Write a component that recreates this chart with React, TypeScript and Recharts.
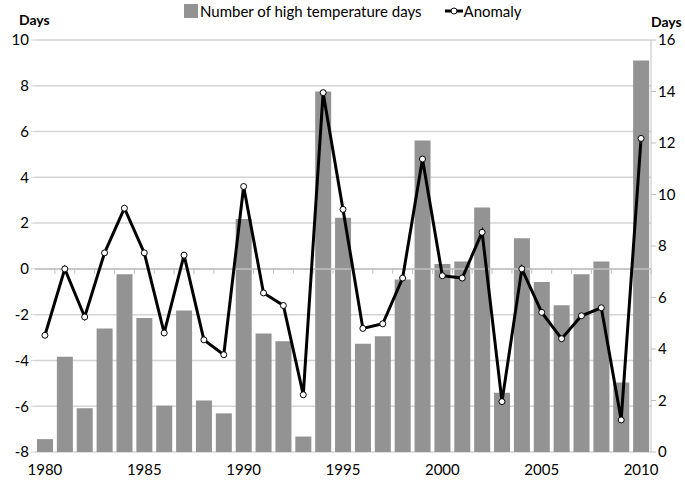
import {
  Bar,
  CartesianGrid,
  ComposedChart,
  Line,
  ReferenceLine,
  XAxis,
  YAxis
} from "recharts";

const YEARS = [
  1980, 1981, 1982, 1983, 1984, 1985, 1986, 1987, 1988, 1989,
  1990, 1991, 1992, 1993, 1994, 1995, 1996, 1997, 1998, 1999,
  2000, 2001, 2002, 2003, 2004, 2005, 2006, 2007, 2008, 2009, 2010
];

// number of high temperature days (right axis)
const HOT_DAYS = [
  0.5, 3.7, 1.7, 4.8, 6.9, 5.2, 1.8, 5.5, 2.0, 1.5,
  9.05, 4.6, 4.3, 0.6, 14.0, 9.1, 4.2, 4.5, 6.7, 12.1,
  7.3, 7.4, 9.5, 2.3, 8.3, 6.6, 5.7, 6.9, 7.4, 2.7, 15.2
];

// anomaly (left axis)
const ANOMALY = [
  -2.9, 0.0, -2.1, 0.7, 2.65, 0.7, -2.8, 0.6, -3.1, -3.75,
  3.6, -1.05, -1.6, -5.5, 7.7, 2.6, -2.6, -2.4, -0.4, 4.8,
  -0.3, -0.4, 1.6, -5.8, 0.0, -1.9, -3.05, -2.05, -1.7, -6.6, 5.7
];

const LEFT_TICKS = [-8, -6, -4, -2, 0, 2, 4, 6, 8, 10];
const RIGHT_TICKS = [0, 2, 4, 6, 8, 10, 12, 14, 16];

const FONT = "Lato, 'Open Sans', sans-serif";
const BAR_COLOR = "#939393";
const GRID = "#d4d4d4";

const data = YEARS.map((year, i) => ({
  year,
  days: HOT_DAYS[i],
  anomaly: ANOMALY[i]
}));

// zero line with small tick marks between categories, like the Excel category axis
function ZeroLine(props: any) {
  const { x1, x2, y1 } = props;
  if (x1 == null || x2 == null || y1 == null) return null;
  const left = Math.min(x1, x2);
  const step = Math.abs(x2 - x1) / YEARS.length;
  return (
    <g>
      <line x1={left} x2={left + Math.abs(x2 - x1)} y1={y1} y2={y1} stroke="#c0c0c0" strokeWidth={1.5} />
      {YEARS.map((y, i) => (
        <line
          key={y}
          x1={left + step * (i + 1)}
          x2={left + step * (i + 1)}
          y1={y1}
          y2={y1 + 5}
          stroke="#c0c0c0"
        />
      ))}
    </g>
  );
}

export default function App() {
  const tickStyle = { fill: "#000", fontSize: 15, fontFamily: FONT };
  return (
    <div style={{ position: "relative", width: 685, height: 484, background: "#fff", fontFamily: FONT }}>
      <style>{`body{margin:0}`}</style>
      <div style={{ position: "absolute", left: 19, top: 11, fontWeight: 700, fontSize: 14 }}>Days</div>
      <div style={{ position: "absolute", left: 651, top: 13, fontWeight: 700, fontSize: 14 }}>Days</div>
      <div
        style={{
          position: "absolute",
          top: 2,
          left: 184,
          display: "flex",
          alignItems: "center",
          fontSize: 15
        }}
      >
        <span style={{ display: "inline-block", width: 14, height: 14, background: BAR_COLOR, marginRight: 2 }} />
        <span>Number of high temperature days</span>
        <svg width={20} height={14} style={{ marginLeft: 22 }}>
          <line x1={1} x2={19} y1={7} y2={7} stroke="#000" strokeWidth={3} />
          <circle cx={10} cy={7} r={3} fill="#fff" stroke="#000" strokeWidth={1} />
        </svg>
        <span>Anomaly</span>
      </div>
      <ComposedChart
        width={685}
        height={484}
        data={data}
        margin={{ top: 40, right: 0, bottom: 0, left: 0 }}
      >
        <CartesianGrid yAxisId="left" vertical={false} stroke={GRID} strokeWidth={1.5} />
        <XAxis
          dataKey="year"
          interval={0}
          height={32}
          tickLine={false}
          axisLine={false}
          tick={tickStyle}
          tickFormatter={(v: number) => (v % 5 === 0 ? String(v) : "")}
          tickMargin={6}
        />
        <YAxis
          yAxisId="left"
          orientation="left"
          width={35}
          domain={[-8, 10]}
          ticks={LEFT_TICKS}
          interval={0}
          axisLine={false}
          tickLine={{ stroke: GRID }}
          tickSize={4}
          tick={tickStyle}
        />
        <YAxis
          yAxisId="right"
          orientation="right"
          width={34}
          domain={[0, 16]}
          ticks={RIGHT_TICKS}
          interval={0}
          axisLine={{ stroke: "#c0c0c0" }}
          tickLine={{ stroke: "#c0c0c0" }}
          tickSize={5}
          tick={tickStyle}
        />
        <ReferenceLine yAxisId="left" y={0} shape={(p: any) => <ZeroLine {...p} />} />
        <Bar yAxisId="right" dataKey="days" fill={BAR_COLOR} barSize={16} isAnimationActive={false} />
        <Line
          yAxisId="left"
          dataKey="anomaly"
          type="linear"
          stroke="#000"
          strokeWidth={3}
          dot={{ r: 3, fill: "#fff", stroke: "#000", strokeWidth: 1 }}
          activeDot={false}
          isAnimationActive={false}
        />
      </ComposedChart>
    </div>
  );
}
